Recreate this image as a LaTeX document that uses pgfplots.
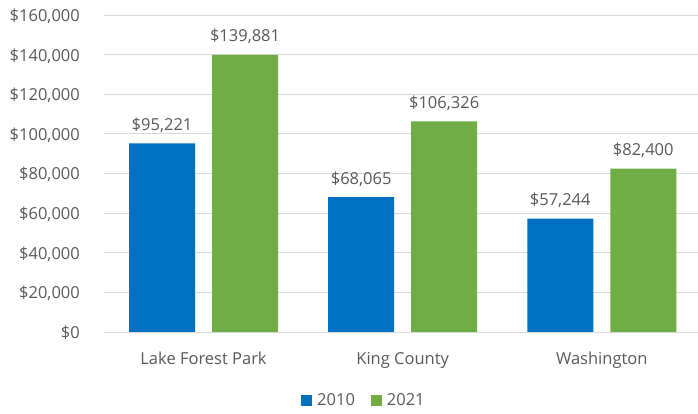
\documentclass[border=0pt]{standalone}
\usepackage{fontspec}
\setmainfont{Open Sans}
\usepackage{pgfplots}
\pgfplotsset{compat=1.18}
\definecolor{cblue}{HTML}{0070C0}
\definecolor{cgreen}{HTML}{70AD47}
\definecolor{tgray}{HTML}{595959}
\definecolor{ggray}{HTML}{D9D9D9}
\begin{document}
\fontsize{16.5}{20}\selectfont
\begin{tikzpicture}
\path[use as bounding box] (0,0) rectangle (698pt,414pt);
\begin{axis}[
  at={(104pt,82pt)}, anchor=south west,
  scale only axis, width=597.3pt, height=317pt,
  /pgf/number format/assume math mode=true,
  ybar=17pt, bar width=66pt,
  xmin=-0.5, xmax=2.5, ymin=0, ymax=160000,
  xtick={0,1,2}, xticklabels={Lake Forest Park, King County, Washington},
  ytick={0,20000,...,160000},
  scaled y ticks=false,
  yticklabel={\$\pgfmathprintnumber[fixed,1000 sep={,}]{\tick}},
  axis line style={draw=none}, major tick length=0pt,
  ymajorgrids, major grid style={ggray, line width=0.9pt},
  tick label style={text=tgray, font=\fontsize{16.5}{20}\selectfont, inner sep=0pt},
  yticklabel style={anchor=base east, xshift=-24pt, yshift=-6.5pt},
  xticklabel style={anchor=base, yshift=-33pt},
  nodes near coords={\$\pgfmathprintnumber[fixed,1000 sep={,}]{\pgfplotspointmeta}},
  every node near coord/.append style={anchor=base, yshift=13pt, text=tgray, font=\fontsize{16.5}{20}\selectfont, inner sep=0pt},
  legend image code/.code={\fill[#1] (0pt,-5.5pt) rectangle (11pt,5.5pt);},
  legend style={at={(0.3298,-0.216)}, anchor=west, draw=none, fill=none, inner sep=0pt,
    legend columns=2, font=\fontsize{16.5}{20}\selectfont, text=tgray,
    nodes={inner sep=0pt},
    /tikz/every odd column/.append style={column sep=5pt},
    /tikz/every even column/.append style={column sep=16pt}},
]
\addplot[draw=none, fill=cblue] coordinates {(0,95221) (1,68065) (2,57244)};
\addplot[draw=none, fill=cgreen] coordinates {(0,139881) (1,106326) (2,82400)};
\legend{2010,2021}
\end{axis}
\end{tikzpicture}
\end{document}
